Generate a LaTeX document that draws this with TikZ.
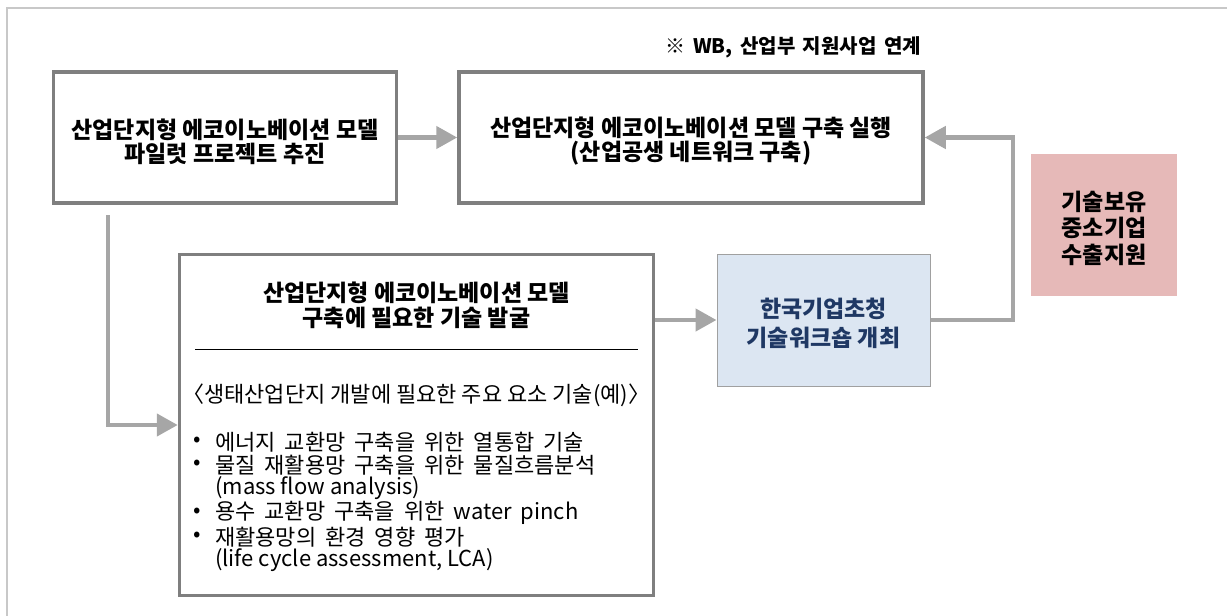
\documentclass[tikz,border=0pt]{standalone}
\usepackage{fontspec}
\setmainfont{Noto Sans CJK KR}
\usepackage{tikz}
\usetikzlibrary{arrows.meta}
\usetikzlibrary{positioning,calc}
\definecolor{boxgray}{HTML}{7F7F7F}
\definecolor{flowgray}{HTML}{A6A6A6}
\definecolor{framegray}{HTML}{C8C8C8}
\definecolor{workblue}{HTML}{DCE6F2}
\definecolor{workline}{HTML}{A0A0A0}
\definecolor{worktext}{HTML}{1F3864}
\definecolor{exportpink}{HTML}{E6B9B8}
\newcommand*{\itemspace}{\spaceskip 9pt\relax}
\newcommand*{\notespace}{\spaceskip 7.5pt\relax}
\tikzset{stepbox/.style={rectangle,draw=boxgray,line width=3.5pt,fill=white,inner sep=0pt}}
\tikzset{workbox/.style={rectangle,draw=workline,line width=1pt,fill=workblue,inner sep=0pt}}
\tikzset{exportbox/.style={rectangle,fill=exportpink,inner sep=0pt}}
\tikzset{flow/.style={-{Triangle[length=21pt,width=22pt]},draw=flowgray,line width=4.5pt}}
\tikzset{itemtext/.style={anchor=west,inner sep=0pt,font=\fontsize{22}{23}\selectfont\itemspace}}
\tikzset{plaintext/.style={anchor=west,inner sep=0pt,font=\fontsize{22}{23}\selectfont}}
\tikzset{titletext/.style={inner sep=0pt,font=\fontsize{23}{24}\selectfont\bfseries,align=center}}

\begin{document}
\begin{tikzpicture}[x=1pt,y=-1pt]
    \useasboundingbox (0,0) rectangle (1227,616);
    % outer frame (top and left only)
    \draw[framegray,line width=1.2pt] (1227,8) -- (7,8) -- (7,616);

    \node[inner sep=0pt,anchor=east,font=\fontsize{20}{20}\selectfont\bfseries\notespace] (note) at (921,47) {※ WB, 산업부 지원사업 연계};

    % boxes
    \node[stepbox,minimum width=343pt,minimum height=131pt] (pilot) at (225,137.5) {};
    \node[stepbox,minimum width=464pt,minimum height=131pt] (build) at (691,137.5) {};
    \node[stepbox,minimum width=474pt,minimum height=341pt] (tech) at (416.5,425) {};
    \node[workbox,minimum width=213pt,minimum height=132pt] (work) at (823.5,320) {};
    \node[exportbox,minimum width=146pt,minimum height=142pt] (export) at (1104,225) {};

    \node[titletext] (pilottext) at ([yshift=-4pt]pilot.center) {산업단지형 에코이노베이션 모델\\파일럿 프로젝트 추진};
    \node[titletext] (buildtext) at ([yshift=-4pt]build.center) {산업단지형 에코이노베이션 모델 구축 실행\\(산업공생 네트워크 구축)};
    \node[titletext,text=worktext,font=\fontsize{23}{29}\selectfont\bfseries] (worktitle) at ([yshift=-3pt]work.center) {한국기업초청\\기술워크숍 개최};
    \node[titletext,font=\fontsize{23}{26.5}\selectfont\bfseries] (exporttext) at ([yshift=-3pt]export.center) {기술보유\\중소기업\\수출지원};

    % inside the technology box
    \node[titletext,font=\fontsize{23}{25}\selectfont\bfseries] (techtitle) at (416.5,305.5) {산업단지형 에코이노베이션 모델\\구축에 필요한 기술 발굴};
    \draw[line width=0.8pt] (195,349) -- (638,349);
    \node[plaintext] (subtitle) at (182,395) {〈생태산업단지 개발에 필요한 주요 요소 기술(예)〉};
    \node[itemtext] (b1) at (193,442) {•};
    \node[itemtext] (t1) at (215,442) {에너지 교환망 구축을 위한 열통합 기술};
    \node[itemtext] (b2) at (193,465) {•};
    \node[itemtext] (t2) at (215,465) {물질 재활용망 구축을 위한 물질흐름분석};
    \node[plaintext] (t2b) at (215,488) {(mass flow analysis)};
    \node[itemtext] (b3) at (193,513) {•};
    \node[itemtext] (t3) at (215,513) {용수 교환망 구축을 위한 water pinch};
    \node[itemtext] (b4) at (193,537) {•};
    \node[itemtext] (t4) at (215,537) {재활용망의 환경 영향 평가};
    \node[plaintext] (t4b) at (215,560) {(life cycle assessment, LCA)};

    % connectors
    \coordinate (drop) at (108,215);
    \coordinate (turn) at (1013,320);
    \draw[flow] (pilot.east) -- (build.west);
    \draw[flow] (drop) |- (tech.west);
    \draw[flow] (tech.east |- work.west) -- (work.west);
    \draw[flow] (work.east) -- (turn) |- (build.east);
\end{tikzpicture}
\end{document}
